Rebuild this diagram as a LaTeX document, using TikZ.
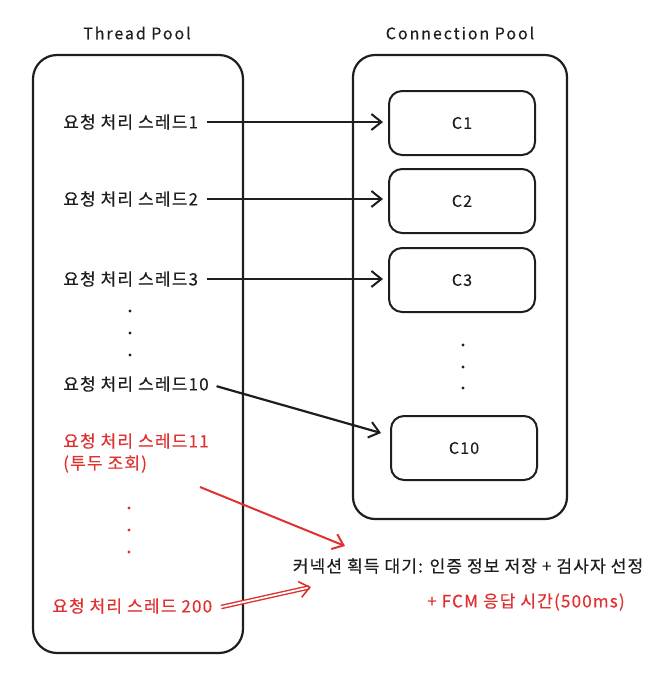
\documentclass[tikz,border=0pt]{standalone}
\usepackage{fontspec}
\setmainfont{Noto Sans CJK KR}[LetterSpace=7,FakeBold=0.4]
\usetikzlibrary{arrows.meta,calc}
\definecolor{ink}{HTML}{1E1E1E}
\definecolor{exred}{HTML}{E03131}
\tikzset{
 pool/.style={draw=ink, line width=2.2pt, rounded corners=24pt, inner sep=0pt},
 conn/.style={draw=ink, line width=2pt, rounded corners=13pt, minimum width=146pt, minimum height=64pt, inner sep=0pt, font=\fontsize{16}{19}\selectfont, text=ink},
 lbl/.style={font=\fontsize{17}{20}\selectfont, text=ink, inner sep=0pt, anchor=west},
 redlbl/.style={lbl, text=exred},
 ttl/.style={font=\fontsize{16}{19}\selectfont\addfontfeature{LetterSpace=12}, text=ink, inner sep=0pt},
 arr/.style={-{Straight Barb[length=10pt,width=16pt,line width=2pt]}, line width=2.2pt, draw=ink},
 redarr/.style={-{Straight Barb[length=10pt,width=16pt,line width=2pt]}, line width=2pt, draw=exred},
 dbl/.style={-{Straight Barb[length=10pt,width=16pt,line width=1.6pt]}, draw=exred, line width=1.4pt, double=white, double distance=1.8pt},
 dotb/.style={circle, fill=#1, inner sep=0pt, minimum size=3.2pt},
}
\begin{document}
\begin{tikzpicture}[x=1pt,y=-1pt]
\useasboundingbox (0,0) rectangle (667,681);
% titles
\node[ttl] (tpt) at (137,33) {Thread Pool};
\node[ttl] (cpt) at (460,33) {Connection Pool};
% pools
\node[pool, minimum width=210pt, minimum height=598pt] (tp) at (138,354) {};
\node[pool, rounded corners=22pt, minimum width=214pt, minimum height=464pt] (cp) at (460,287) {};
% connections
\node[conn] (c1) at (462,123) {C1};
\node[conn] (c2) at (462,201) {C2};
\node[conn] (c3) at (462,280) {C3};
\node[conn] (c10) at (464,448) {C10};
% thread labels
\node[lbl] (t1) at (63,122) {요청 처리 스레드1};
\node[lbl] (t2) at (63,199) {요청 처리 스레드2};
\node[lbl] (t3) at (63,279) {요청 처리 스레드3};
\node[lbl] (t10) at (63,384) {요청 처리 스레드10};
\node[redlbl] (t11) at (63,441) {요청 처리 스레드11};
\node[redlbl] (t11b) at (63,464) {(투두 조회)};
\node[redlbl] (t200) at (52,606) {요청 처리 스레드 200};
% dots
\node[dotb=ink] (d1) at (130,311) {};
\node[dotb=ink] (d2) at (130,333) {};
\node[dotb=ink] (d3) at (130,355) {};
\node[dotb=ink] (e1) at (463,345) {};
\node[dotb=ink] (e2) at (463,367) {};
\node[dotb=ink] (e3) at (463,388) {};
\node[dotb=exred] (r1) at (129,508) {};
\node[dotb=exred] (r2) at (129,530) {};
\node[dotb=exred] (r3) at (129,552) {};
% wait text
\node[lbl, anchor=center] (wait) at (468,566) {커넥션 획득 대기: 인증 정보 저장 + 검사자 선정};
\node[redlbl, anchor=center] (fcm) at (526,602) {+ FCM 응답 시간(500ms)};
% arrows
\draw[arr, shorten <=9pt, shorten >=5pt] (t1.east) -- (t1.east -| c1.west);
\draw[arr, shorten <=9pt, shorten >=5pt] (t2.east) -- (t2.east -| c2.west);
\draw[arr, shorten <=9pt, shorten >=5pt] (t3.east) -- (t3.east -| c3.west);
\coordinate (c10in) at ($(c10.west)+(-9,-15)$);
\draw[arr, shorten <=8pt] (t10.east) -- (c10in);
\coordinate (r1s) at (200,487);
\coordinate (r1e) at (345,546);
\draw[redarr] (r1s) -- (r1e);
\coordinate (r2e) at (311,587);
\draw[dbl, shorten <=9pt] ($(t200.east)+(0,3)$) -- (r2e);
\end{tikzpicture}
\end{document}
